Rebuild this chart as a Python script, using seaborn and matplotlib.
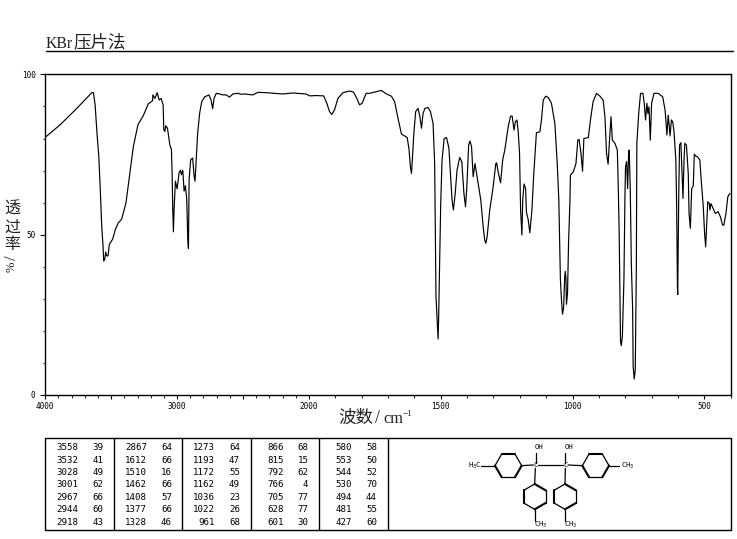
import numpy as np
import pandas as pd
import seaborn as sns
import matplotlib
matplotlib.use("Agg")
import matplotlib.pyplot as plt
from matplotlib.ticker import FixedLocator, FixedFormatter

wavenumber = [4000,3887,3761,3647,3635,3622,3607,3594,3584,3572,3562,3557,3549,3542,3534,3524,3514,3489,3468,3446,3421,3388,3358,3332,3297,3257,3219,3186,3184,3169,3151,3136,3121,3106,3101,3093,3086,3073,3055,3043,3038,3033,3028,3023,3013,3000,2985,2975,2967,2957,2947,2937,2927,2919,2914,2909,2897,2882,2871,2864,2854,2844,2829,2813,2791,2758,2743,2730,2720,2703,2678,2652,2627,2602,2577,2539,2514,2489,2426,2388,2325,2199,2123,2023,1997,1972,1944,1932,1922,1913,1903,1890,1871,1846,1831,1818,1808,1798,1783,
1770,1744,1725,1706,1687,1675,1662,1649,1637,1627,1620,1615,1611,1607,1602,1595,1586,1579,1573,1567,1560,1548,1539,1529,1523,1518,1513,1510,1508,1504,1500,1495,1487,1478,1469,1463,1457,1452,1445,1438,1428,1420,1412,1406,1401,1394,1389,1383,1377,1370,1364,1358,1348,1339,1333,1329,1324,1314,1301,1291,1288,1281,1273,1265,1257,1244,1235,1229,1222,1217,1211,1206,1201,1197,1192,1189,1184,1178,1175,1168,1162,1154,1147,1137,1124,1118,1111,1102,1092,1080,1067,1058,1052,1046,1042,1038,1034,1030,1028,1025,1023,1019,1015,1010,1008,997,987,980,975,968,962,957,940,932,922,909,896,884,877,871,865,859,854,849,839,830,826,823,818,815,811,805,801,799,795,791,787,785,781,777,772,770,766,762,758,756,749,742,733,728,723,718,714,710,705,700,691,675,658,649,646,642,637,630,625,620,615,608,605,602,601,597,594,589,585,581,577,574,568,561,558,553,548,542,538,532,526,517,511,504,499,495,492,487,481,479,475,466,458,448,439,431,426,418,411,403]
transmittance = [80.4,84.3,89.4,94.3,94.3,90.5,81.2,74.4,65.1,52.7,46.5,41.8,42.3,44.6,43.4,43.4,47,48.6,51.7,53.7,54.8,59.9,69.3,77.5,84.3,87.1,90.8,91.8,93.6,92.5,94.3,92,92.5,90.5,82.7,82.2,84,83.2,78,76.5,69.3,57.9,50.9,57.9,66.7,64.3,69.3,70.1,68.7,70.1,63.6,65.3,61,48.6,45.7,67.2,73.4,73.9,68.2,66.7,74.4,81.7,87.9,91.5,93,93.6,92,89.3,92.5,94.1,93.9,93.6,93.6,92.9,93.9,94.1,93.8,93.9,93.6,94.4,94.3,93.9,94.2,93.9,93.3,93.4,93.3,91,88.4,87.5,88.9,92.5,94.3,94.8,94.5,92.5,90.5,91,94.1,
94.1,94.6,95,93.9,93.2,91.5,86.3,81.4,80.8,80.3,76.4,71.2,69.1,74.3,81.6,88.4,89.4,86.8,83.2,87.8,89.4,89.7,88.4,84.7,72.2,30.8,22.5,17.5,23.5,41.2,59.8,73.3,80,80.3,77,69.1,60.8,57.7,62.9,70.2,74.1,72.8,62.9,58.7,64.9,78,79.2,77.4,68.1,72.2,69.1,66,60.8,52.5,48.3,47.3,49.3,57.7,65,72.2,72.4,69.1,66.2,73.3,76.4,83.7,87,87,82.6,85.2,85.8,82.1,75.4,57.7,49.9,60.8,65.8,64.4,57.1,54.6,50.6,57.7,69.1,81.8,82.1,85.8,92,93.2,92.8,91,84.7,72.2,60.8,36,29.7,25.2,27.1,36,38.6,36.5,28.3,31.8,47.9,59.8,68.6,69.6,72.2,79.5,79.7,75.4,69.8,80,80.3,85.8,91.5,94.1,93.2,92,86.8,75.4,72,80.5,86.8,79.5,78.5,76.4,62.9,50.4,16.7,15.4,18.3,36,62.9,71.2,72.8,64.4,75.9,76.4,64.4,41.2,26.6,8.9,5,7.9,39.1,78.5,87.8,94.1,94.1,91,85.8,91,87.8,89.9,79.5,91,94.1,94.1,93,88.9,85.8,81.1,87.3,80.8,85.8,85.2,82.1,73.3,58.7,33.4,31.3,62.9,78,78.7,70.2,61.3,73.3,78.5,78,69.1,56.6,52,64.4,65.2,75.1,74.5,74.3,73.3,66,58.7,50.4,46.2,51.4,60.3,59.7,57.7,59.7,58.1,56.6,57.2,55.6,53,53,56.6,61.8,62.9]

x_tick_values = [4000, 3500, 3000, 2500, 2000, 1500, 1000, 500]
x_tick_labels = ["4000", "", "3000", "", "2000", "1500", "1000", "500"]
y_tick_values = [0, 50, 100]
y_tick_labels = ["0", "50", "100"]

peak_wavenumbers = [
    [3558, 3532, 3028, 3001, 2967, 2944, 2918],
    [2867, 1612, 1510, 1462, 1408, 1377, 1328],
    [1273, 1193, 1172, 1162, 1036, 1022, 961],
    [866, 815, 792, 766, 705, 628, 601],
    [580, 553, 544, 530, 494, 481, 427],
]
peak_values = [
    [39, 41, 49, 62, 66, 60, 43],
    [64, 66, 16, 66, 57, 66, 46],
    [64, 47, 55, 49, 23, 26, 68],
    [68, 15, 62, 4, 77, 77, 30],
    [58, 50, 52, 70, 44, 55, 60],
]

sns.set_theme(style="ticks")
plt.rcParams["font.family"] = ["DejaVu Sans Mono", "Noto Sans CJK SC"]

W, H = 737, 539
fig = plt.figure(figsize=(W / 100, H / 100), dpi=100, facecolor="white")
L, R, T, B = 45.3, 730.7, 74.4, 395.0
ax = fig.add_axes([L / W, 1 - B / H, (R - L) / W, (B - T) / H])


def fwd(w):
    w = np.asarray(w, dtype=float)
    return np.where(w <= 2000, w, 2000 + (w - 2000) / 2)


def inv(u):
    u = np.asarray(u, dtype=float)
    return np.where(u <= 2000, u, 2000 + (u - 2000) * 2)


df = pd.DataFrame({"wavenumber": wavenumber, "transmittance": transmittance})
sns.lineplot(data=df, x="wavenumber", y="transmittance", sort=False, estimator=None,
             color="black", linewidth=0.85, ax=ax)
ax.set_xscale("function", functions=(fwd, inv))
ax.set_xlim(4000, 400)
ax.set_ylim(0, 100)
ax.set_xlabel("")
ax.set_ylabel("")
ax.xaxis.set_major_locator(FixedLocator(x_tick_values))
ax.xaxis.set_major_formatter(FixedFormatter(x_tick_labels))
ax.xaxis.set_minor_locator(FixedLocator(list(range(400, 4001, 100))))
ax.yaxis.set_major_locator(FixedLocator(y_tick_values))
ax.yaxis.set_major_formatter(FixedFormatter(y_tick_labels))
ax.yaxis.set_minor_locator(FixedLocator(list(range(0, 101, 10))))
ax.tick_params(axis="x", which="major", length=3.2, width=0.8, labelsize=5.5, pad=2, color="black", labelcolor="black")
ax.tick_params(axis="y", which="major", length=3.5, width=0.8, labelsize=5.5, pad=3.5, color="black", labelcolor="black")
ax.tick_params(axis="both", which="minor", length=1.8, width=0.8)
for s in ax.spines.values():
    s.set_linewidth(1.0)
    s.set_color("black")

# Overlay in pixel coordinates for title, labels, table and structure
ov = fig.add_axes([0, 0, 1, 1], facecolor="none")
ov.set_xlim(0, W)
ov.set_ylim(H, 0)
ov.axis("off")

CJK = ["Noto Sans CJK SC", "DejaVu Sans"]
SERIF = "Liberation Serif"
ink = "#222222"
ov.text(46, 48, "KBr", family=SERIF, fontsize=11.3, va="baseline", ha="left", color=ink)
ov.text(73.5, 47.5, "压片法", family=CJK, fontsize=12.6, va="baseline", ha="left", color=ink)
ov.plot([46, 733], [50.5, 50.5], color="black", lw=1)

for ch, y in zip("透过率", [209, 227, 244]):
    ov.text(12, y, ch, family=CJK, fontsize=11.5, ha="center", va="center", color=ink)
ov.text(12, 258, "/", family=SERIF, fontsize=12, rotation=90, ha="center", va="center", color=ink)
ov.text(12, 267, "%", family=SERIF, fontsize=9, rotation=90, ha="center", va="center", color=ink)

ov.text(338, 423, "波数", family=CJK, fontsize=12.6, ha="left", va="baseline", color=ink)
ov.text(375, 423, "/", family=SERIF, fontsize=13, ha="left", va="baseline", color=ink)
ov.text(383, 423, "cm", family=SERIF, fontsize=11.8, ha="left", va="baseline", color=ink)
ov.text(403, 416, "−1", family=SERIF, fontsize=6.5, ha="left", va="baseline", color=ink)

# Peak table
seps = [45.5, 114.5, 182.5, 251, 319.5, 388, 730.7]
for x in seps:
    ov.plot([x, x], [438, 530], color="black", lw=1)
ov.plot([seps[0], seps[-1]], [438, 438], color="black", lw=1)
ov.plot([seps[0], seps[-1]], [530, 530], color="black", lw=1)
rows_y = [447.7 + 12.4 * j for j in range(7)]
col_right_a = [78.5, 147, 215, 283.5, 352]
col_right_b = [103.5, 172, 240, 308.5, 377]
for i in range(5):
    for j in range(7):
        ov.text(col_right_a[i], rows_y[j], str(peak_wavenumbers[i][j]), fontsize=6.6, ha="right", va="center", color="black")
        ov.text(col_right_b[i], rows_y[j], str(peak_values[i][j]), fontsize=6.6, ha="right", va="center", color="black")


# Chemical structure
def bond(x0, y0, x1, y1, lw=0.9):
    ov.plot([380 + x0 / 3, 380 + x1 / 3], [430 + y0 / 3, 430 + y1 / 3], color="black", lw=lw, solid_capstyle="round")


def ring(cx, cy, r, start):
    for k in range(6):
        a0 = np.radians(start + 60 * k)
        a1 = np.radians(start + 60 * (k + 1))
        bond(cx + r * np.cos(a0), cy + r * np.sin(a0), cx + r * np.cos(a1), cy + r * np.sin(a1),
             lw=1.5 if k % 2 == 0 else 0.9)


ring(385, 107, 40, 0)
ring(647, 107, 40, 0)
ring(464, 200, 38, 30)
ring(555, 200, 38, 30)
bond(303, 107, 345, 107)
bond(425, 107, 460, 105)
bond(475, 105, 548, 105)
bond(564, 105, 607, 107)
bond(687, 107, 718, 107)
bond(467, 70, 467, 98)
bond(556, 70, 556, 98)
bond(466, 115, 464, 162)
bond(556, 115, 555, 162)
bond(464, 238, 464, 272)
bond(555, 238, 555, 272)


def label(x, y, s):
    ov.text(380 + x / 3, 430 + y / 3, s, fontsize=5.2, ha="center", va="center", color="black")


label(476, 52, "OH")
label(566, 52, "OH")
label(467, 106, "C")
label(556, 106, "C")
label(284, 108, "H$_3$C")
label(742, 108, "CH$_3$")
label(481, 285, "CH$_3$")
label(572, 285, "CH$_3$")

fig.savefig("out.png", dpi=100)
